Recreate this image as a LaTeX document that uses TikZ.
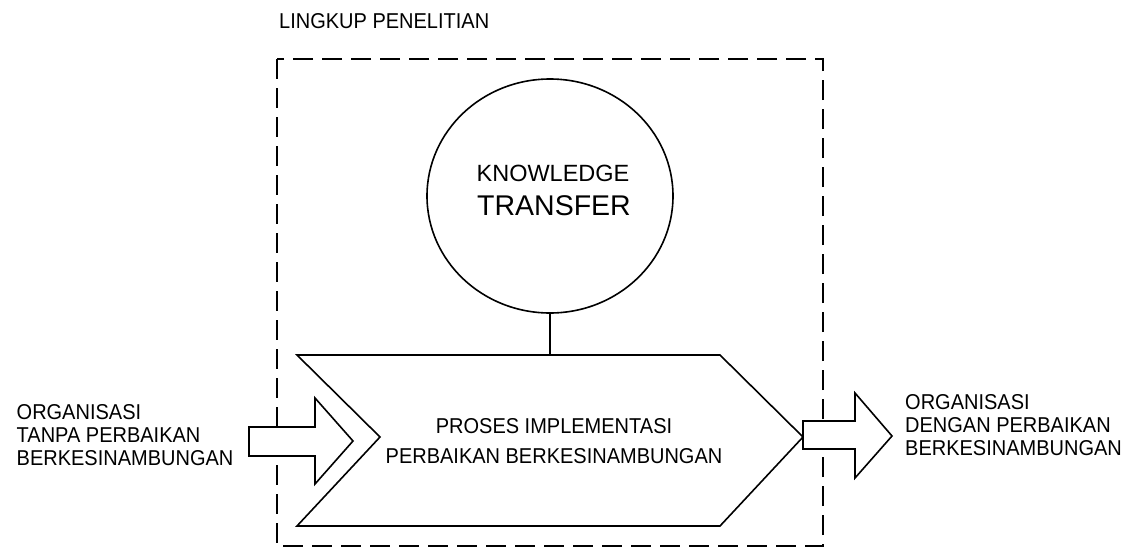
\documentclass[tikz,border=0pt]{standalone}
\usepackage{fontspec}
\setmainfont{Liberation Sans}
\newfontfamily\lblfont[FakeStretch=0.93]{Liberation Sans}
\usetikzlibrary{shapes.geometric}
\begin{document}
\begin{tikzpicture}[x=1pt,y=-1pt,
  outline/.style={draw=black,line width=1.6pt,line join=miter},
  scopebox/.style={draw=black,line width=2pt,dash pattern=on 20pt off 9pt},
  label/.style={inner sep=0pt,font=\lblfont\fontsize{21.5}{23}\selectfont},
  midlabel/.style={inner sep=0pt,align=center,font=\lblfont\fontsize{21.5}{30}\selectfont}]
\useasboundingbox (0,0) rectangle (1136,549);

% research scope (dashed frame)
\draw[scopebox] (277,59) rectangle (823,546);
\node[label,anchor=north west] (scope) at (279,13) {LINGKUP PENELITIAN};

% knowledge transfer circle
\node[ellipse,outline,minimum width=246pt,minimum height=234pt,inner sep=0pt] (kt) at (550,196) {};
\node[inner sep=0pt,anchor=base,font=\fontsize{23.5}{24}\selectfont] (kt1) at (553,181) {KNOWLEDGE};
\node[inner sep=0pt,anchor=base,font=\fontsize{28.5}{29}\selectfont] (kt2) at (554,215) {TRANSFER};

% implementation process chevron
\coordinate (chevtop) at (550,355);
\draw[outline] (297,355) -- (720,355) -- (803,437) -- (720,526) -- (297,526) -- (380,437) -- cycle;
\node[label,anchor=base] (proc1) at (554,433) {PROSES IMPLEMENTASI};
\node[label,anchor=base] (proc2) at (554,463) {PERBAIKAN BERKESINAMBUNGAN};

% link from circle to chevron
\draw[outline] (kt.south) -- (chevtop);

% input arrow
\draw[outline,fill=white] (249,427) -- (315,427) -- (315,398) -- (353,441) -- (315,484) -- (315,456) -- (249,456) -- cycle;
\node[label,anchor=north west,align=left] (inorg) at (16.5,404) {ORGANISASI\\TANPA PERBAIKAN\\BERKESINAMBUNGAN};

% output arrow
\draw[outline,fill=white] (803,421) -- (855,421) -- (855,393) -- (892,436) -- (855,478) -- (855,449) -- (803,449) -- cycle;
\node[label,anchor=north west,align=left] (outorg) at (905,394) {ORGANISASI\\DENGAN PERBAIKAN\\BERKESINAMBUNGAN};
\end{tikzpicture}
\end{document}
